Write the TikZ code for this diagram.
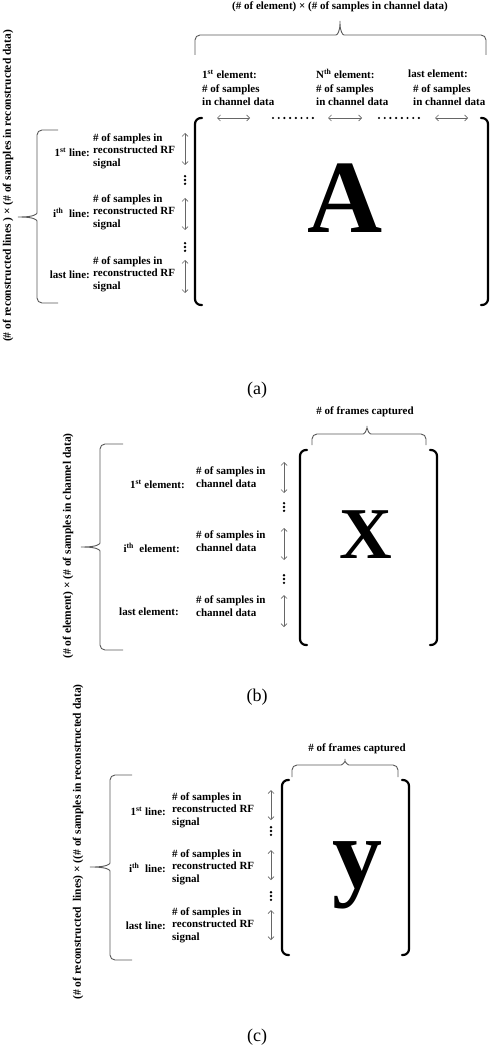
\documentclass[tikz,border=0pt]{standalone}
\usepackage{fontspec}
\setmainfont{Liberation Serif}
\usetikzlibrary{arrows.meta}
\tikzset{
  lab/.style={font=\bfseries\fontsize{11}{12.5}\selectfont, inner sep=0pt, align=left},
  rotlab/.style={lab, font=\bfseries\fontsize{11.5}{13}\selectfont, rotate=90},
  big/.style={font=\bfseries\fontsize{#1}{#1}\selectfont, inner sep=0pt},
  capt/.style={font=\fontsize{18}{18}\selectfont, inner sep=0pt},
  brace/.style={draw=black!65, line width=0.9pt, rounded corners=5pt},
  mbracket/.style={line width=2.2pt, line cap=round, rounded corners=6pt},
  darrow/.style={{Straight Barb[length=3pt,width=6pt]}-{Straight Barb[length=3pt,width=6pt]}, draw=black!60, line width=0.7pt},
}
% horizontal brace: (left x, right x, tip x)(line y, tip y, end y)
\def\hbrace(#1,#2,#3)(#4,#5,#6){\draw[brace] (#1,#6) |- (#3-9,#4) .. controls (#3-3,#4) and (#3,#4-3) .. (#3,#5) .. controls (#3,#4-3) and (#3+3,#4) .. (#3+9,#4) -| (#2,#6);}
% vertical brace: (top y, bottom y, tip y)(line x, tip x, end x)
\def\vbrace(#1,#2,#3)(#4,#5,#6){\draw[brace] (#6,#1) -| (#4,#3-9) .. controls (#4,#3-3) and (#4-3,#3) .. (#5,#3) .. controls (#4-3,#3) and (#4,#3+3) .. (#4,#3+9) |- (#6,#2);}
\def\vdotsat(#1,#2){\foreach \k in {-3.8,0,3.8} \fill (#1,#2+\k) circle (1.3pt);}
\def\hdotsat(#1,#2){\foreach \k in {0,...,7} \fill (#1+5.7*\k,#2) circle (1.2pt);}

\begin{document}
\begin{tikzpicture}[x=1pt,y=-1pt]
  \useasboundingbox (0,0) rectangle (493,1048);
  %%%%% (a) %%%%%
  \node[lab] (dimtopA) at (340,7) {(\# of element) × (\# of samples in channel data)};
  \hbrace(195,486,340)(35,18,55)
  \node[lab, anchor=west] (elA1) at (202,74) {1\textsuperscript{st} element:};
  \node[lab, anchor=west] (elAN) at (316,74) {N\textsuperscript{th} element:};
  \node[lab, anchor=west] (elAL) at (408,74) {last element:};
  \node[lab, anchor=west] (smpA1) at (202,95) {\# of samples\\in channel data};
  \node[lab, anchor=west] (smpAN) at (316,95) {\# of samples\\in channel data};
  \node[lab, anchor=west] (smpAL) at (413,95) {\# of samples\\in channel data};
  \draw[darrow] (217,118) -- (250,118);
  \draw[darrow] (328,118) -- (362,118);
  \draw[darrow] (435,118) -- (468,118);
  \hdotsat(273,118)
  \hdotsat(379,118)

  \node[rotlab] (dimleftA) at (8,186) {(\# of reconstructed lines ) × (\# of samples in reconstructed data)};
  \vbrace(130,303,217)(37,15,58)
  \node[lab, anchor=east] (lnA1) at (90,152) {1\textsuperscript{st} line:};
  \node[lab, anchor=east] (lnAi) at (90,213) {i\textsuperscript{th}\ \ line:};
  \node[lab, anchor=east] (lnAL) at (90,275) {last line:};
  \node[lab, anchor=west] (rfA1) at (93,151) {\# of samples in\\reconstructed RF\\signal};
  \node[lab, anchor=west] (rfAi) at (93,212) {\# of samples in\\reconstructed RF\\signal};
  \node[lab, anchor=west] (rfAL) at (93,274) {\# of samples in\\reconstructed RF\\signal};
  \draw[darrow] (185,133) -- (185,165);
  \draw[darrow] (185,198) -- (185,230);
  \draw[darrow] (185,260) -- (185,293);
  \vdotsat(185,180)
  \vdotsat(185,247)

  \draw[mbracket] (202,118) -- (195,118) -- (195,305) -- (202,305);
  \draw[mbracket] (481,118) -- (488,118) -- (488,305) -- (481,305);
  \node[big=104, anchor=base] (matA) at (345,233) {A};
  \node[capt] (capA) at (257,390) {(a)};

  %%%%% (b) %%%%%
  \node[lab] (frmB) at (365,412) {\# of frames captured};
  \hbrace(312,426,367)(434,423,445)
  \node[rotlab] (dimleftB) at (68,546) {(\# of element) × (\# of samples in channel data)};
  \vbrace(444,650,547)(100,78,123)
  \node[lab, anchor=east] (elB1) at (185,484) {1\textsuperscript{st} element:};
  \node[lab, anchor=east] (elBi) at (180,548) {i\textsuperscript{th}\ \ element:};
  \node[lab, anchor=east] (elBL) at (179,612) {last element:};
  \node[lab, anchor=west] (smpB1) at (196,477) {\# of samples in\\channel data};
  \node[lab, anchor=west] (smpBi) at (196,541) {\# of samples in\\channel data};
  \node[lab, anchor=west] (smpBL) at (196,606) {\# of samples in\\channel data};
  \draw[darrow] (284,462) -- (284,493);
  \draw[darrow] (284,528) -- (284,560);
  \draw[darrow] (284,595) -- (284,627);
  \vdotsat(284,507)
  \vdotsat(284,579)

  \draw[mbracket] (307,450) -- (300,450) -- (300,645) -- (307,645);
  \draw[mbracket] (430,450) -- (437,450) -- (437,645) -- (430,645);
  \node[big=73, anchor=base] (matX) at (366,558) {X};
  \node[capt] (capB) at (257,697) {(b)};

  %%%%% (c) %%%%%
  \node[lab] (frmC) at (357,749) {\# of frames captured};
  \hbrace(292,398,345)(765,756,777)
  \node[rotlab] (dimleftC) at (78,842) {(\# of reconstructed\ \ lines) × ((\# of samples in reconstructed data)};
  \vbrace(775,960,867)(110,87,132)
  \node[lab, anchor=east] (lnC1) at (166,811) {1\textsuperscript{st} line:};
  \node[lab, anchor=east] (lnCi) at (166,868) {i\textsuperscript{th}\ \ line:};
  \node[lab, anchor=east] (lnCL) at (166,926) {last line:};
  \node[lab, anchor=west] (rfC1) at (172,810) {\# of samples in\\reconstructed RF\\signal};
  \node[lab, anchor=west] (rfCi) at (172,867) {\# of samples in\\reconstructed RF\\signal};
  \node[lab, anchor=west] (rfCL) at (172,925) {\# of samples in\\reconstructed RF\\signal};
  \draw[darrow] (271,790) -- (271,820);
  \draw[darrow] (271,850) -- (271,880);
  \draw[darrow] (271,910) -- (271,940);
  \vdotsat(271,831)
  \vdotsat(271,896)

  \draw[mbracket] (289,780) -- (282,780) -- (282,955) -- (289,955);
  \draw[mbracket] (402,780) -- (409,780) -- (409,955) -- (402,955);
  \node[big=100, anchor=base] (matY) at (357,887) {y};
  \node[capt] (capC) at (257,1037) {(c)};
\end{tikzpicture}
\end{document}
